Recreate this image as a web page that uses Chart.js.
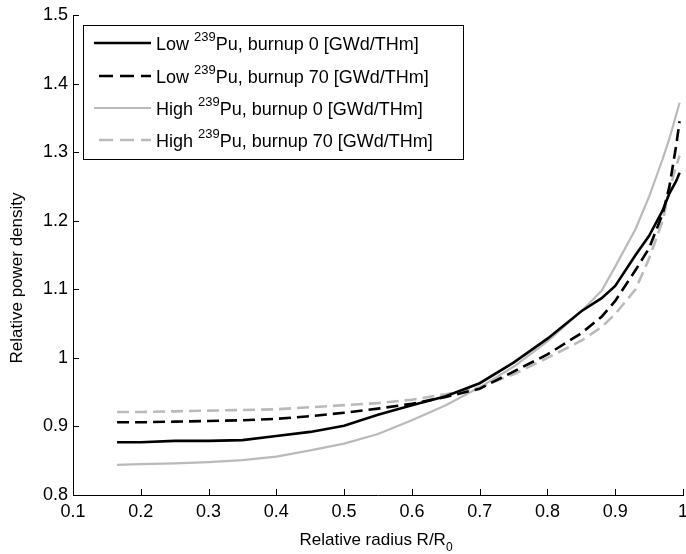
<!DOCTYPE html>
<html>
<head>
<meta charset="utf-8">
<script src="https://cdn.jsdelivr.net/npm/chart.js@4/dist/chart.umd.min.js"></script>
<style>
  html,body{margin:0;padding:0;background:#fff;}
  #wrap{width:686px;height:554px;position:relative;}
</style>
</head>
<body>
<div id="wrap"><canvas id="chart" width="686" height="554"></canvas></div>
<script>
/* relative power density vs relative radius */
const radius = [0.165,0.2,0.25,0.3,0.35,0.4,0.45,0.5,0.55,0.6,0.65,0.7,0.75,0.8,0.85,0.88,0.9,0.93,0.95,0.97,0.98,0.99,0.995];
const lowBurn0   = [0.877,0.877,0.879,0.879,0.880,0.886,0.892,0.901,0.917,0.931,0.944,0.963,0.993,1.028,1.068,1.087,1.105,1.150,1.178,1.215,1.240,1.258,1.270];
const lowBurn70  = [0.906,0.906,0.907,0.908,0.909,0.911,0.915,0.920,0.926,0.933,0.943,0.955,0.980,1.005,1.036,1.060,1.083,1.128,1.160,1.210,1.250,1.310,1.345];
const highBurn0  = [0.844,0.845,0.846,0.848,0.851,0.856,0.865,0.875,0.889,0.909,0.931,0.957,0.987,1.024,1.068,1.098,1.133,1.188,1.235,1.290,1.320,1.355,1.372];
const highBurn70 = [0.921,0.921,0.922,0.923,0.924,0.925,0.928,0.931,0.934,0.939,0.947,0.957,0.976,1.000,1.025,1.045,1.064,1.100,1.145,1.200,1.245,1.280,1.295];

const groups  = ['Low','Low','High','High'];
const burnups = [0,70,0,70];
const xTickLabels = ['0.1','0.2','0.3','0.4','0.5','0.6','0.7','0.8','0.9','1'];
const yTickLabels = ['0.8','0.9','1','1.1','1.2','1.3','1.4','1.5'];

const FONT = '"Liberation Sans",Arial,sans-serif';
const BLACK = '#000000', GREY = '#bababa';

function pts(ys){ return radius.map((r,i)=>({x:r, y:ys[i]})); }

const styles = [
  {color:BLACK, width:2.6, dash:[]},
  {color:BLACK, width:2.6, dash:[12,6]},
  {color:GREY,  width:2.2, dash:[]},
  {color:GREY,  width:2.6, dash:[12,6]},
];
const series = [lowBurn0, lowBurn70, highBurn0, highBurn70];

const datasets = series.map((s,i)=>({
  label: groups[i]+' 239Pu, burnup '+burnups[i]+' [GWd/THm]',
  data: pts(s),
  borderColor: styles[i].color,
  borderWidth: styles[i].width,
  borderDash: styles[i].dash,
  pointRadius: 0,
  tension: 0,
  fill: false
}));

// inward ticks, axis titles, matlab style legend
const decor = {
  id:'decor',
  afterDraw(chart){
    const {ctx, chartArea:a, scales:{x, y}} = chart;
    ctx.save();
    ctx.strokeStyle = '#000'; ctx.lineWidth = 1;
    ctx.beginPath();
    x.ticks.forEach(t=>{ const px = Math.round(x.getPixelForValue(t.value))+0.5; ctx.moveTo(px, a.bottom); ctx.lineTo(px, a.bottom-6); });
    y.ticks.forEach(t=>{ const py = Math.round(y.getPixelForValue(t.value))+0.5; ctx.moveTo(a.left, py); ctx.lineTo(a.left+6, py); });
    ctx.stroke();

    // axis titles
    ctx.fillStyle = '#000';
    ctx.textBaseline = 'alphabetic';
    ctx.font = '17px '+FONT;
    const xt = 'Relative radius R/R';
    const w1 = ctx.measureText(xt).width;
    ctx.font = '12px '+FONT;
    const w2 = ctx.measureText('0').width;
    let sx = (a.left+a.right)/2 - (w1+w2)/2 - 2;
    ctx.font = '17px '+FONT; ctx.textAlign='left';
    ctx.fillText(xt, sx, 545);
    ctx.font = '12px '+FONT;
    ctx.fillText('0', sx+w1, 551);

    ctx.save();
    ctx.translate(22, 278);
    ctx.rotate(-Math.PI/2);
    ctx.font = '17px '+FONT; ctx.textAlign='center';
    ctx.fillText('Relative power density', 0, 0);
    ctx.restore();

    // legend
    const L = {x:83.5, y:25.5, w:380, h:134};
    ctx.fillStyle = '#fff';
    ctx.fillRect(L.x, L.y, L.w, L.h);
    ctx.strokeStyle = '#000'; ctx.lineWidth = 1;
    ctx.strokeRect(L.x, L.y, L.w, L.h);
    const rows = [43, 76, 108, 140];
    datasets.forEach((d,i)=>{
      const yy = rows[i];
      ctx.beginPath();
      ctx.strokeStyle = d.borderColor;
      ctx.lineWidth = d.borderWidth;
      ctx.setLineDash(d.borderDash.length ? [14,7] : []);
      ctx.moveTo(d.borderDash.length ? 99 : 94, yy);
      ctx.lineTo(151, yy);
      ctx.stroke();
      ctx.setLineDash([]);
      ctx.fillStyle = '#000';
      let tx = 156;
      ctx.textAlign='left'; ctx.textBaseline='alphabetic';
      ctx.font = '18px '+FONT;
      const p1 = groups[i]+' ';
      ctx.fillText(p1, tx, yy+7); tx += ctx.measureText(p1).width;
      ctx.font = '13px '+FONT;
      ctx.fillText('239', tx, yy-2); tx += ctx.measureText('239').width;
      ctx.font = '18px '+FONT;
      ctx.fillText('Pu, burnup '+burnups[i]+' [GWd/THm]', tx, yy+7);
    });
    ctx.restore();
  }
};

new Chart(document.getElementById('chart'), {
  type:'line',
  data:{ datasets },
  plugins:[decor],
  options:{
    responsive:false,
    animation:false,
    layout:{ padding:{ top:15, right:3, left:0, bottom:0 } },
    plugins:{ legend:{display:false}, tooltip:{enabled:false} },
    scales:{
      x:{
        type:'linear', min:0.1, max:1,
        afterFit(s){ s.height = 59; s.paddingLeft = 0; s.paddingRight = 0; },
        grid:{ display:false, drawTicks:false },
        border:{ display:true, color:'#000', width:1 },
        ticks:{ stepSize:0.1, padding:6, color:'#000', font:{family:FONT, size:18},
          maxRotation:0, autoSkip:false,
          callback:(v,i)=> xTickLabels[i] }
      },
      y:{
        type:'linear', min:0.8, max:1.5,
        afterFit(s){ s.width = 73; s.paddingTop = 0; s.paddingBottom = 0; },
        grid:{ display:false, drawTicks:false },
        border:{ display:true, color:'#000', width:1 },
        ticks:{ stepSize:0.1, padding:5, color:'#000', font:{family:FONT, size:18},
          autoSkip:false,
          callback:(v,i)=> yTickLabels[i] }
      }
    }
  }
});
</script>
</body>
</html>
